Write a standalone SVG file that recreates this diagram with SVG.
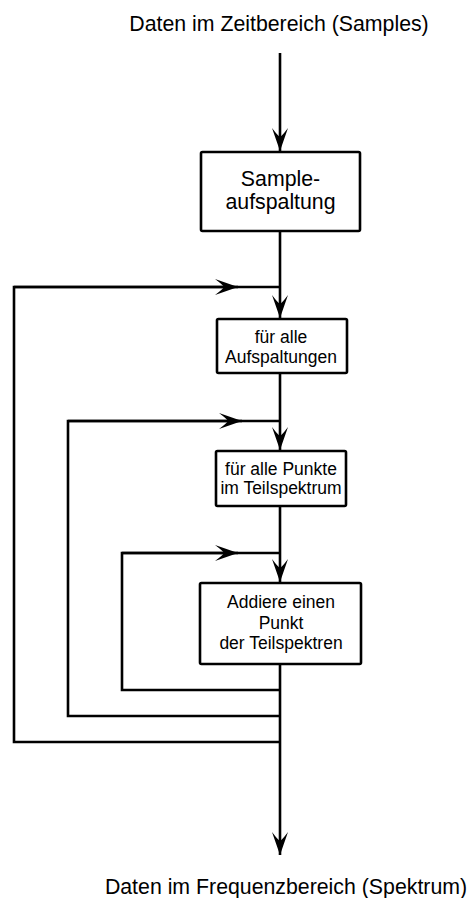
<svg xmlns="http://www.w3.org/2000/svg" width="468" height="898" viewBox="0 0 468 898">
<style>
.box{fill:#fff;stroke:#000;stroke-width:2.6}
.ln{fill:none;stroke:#000;stroke-width:2.6;stroke-linejoin:miter}
.t{font-family:"Liberation Sans",Arial,sans-serif;fill:#000;text-anchor:middle}
.big{font-size:21.3px}
.sm{font-size:17.5px}
</style>
<defs>
<marker id="ah" viewBox="-24 -9 26 18" refX="0" refY="0" markerWidth="26" markerHeight="18" markerUnits="userSpaceOnUse" orient="auto">
<path d="M0,0 L-23,-8 Q-15,-2 -14,0 Q-15,2 -23,8 Z" fill="#000"/>
</marker>
</defs>
<rect width="468" height="898" fill="#fff"/>
<g id="connectors">
<line class="ln" x1="280" y1="53" x2="280" y2="151" marker-end="url(#ah)"/>
<line class="ln" x1="280" y1="231" x2="280" y2="318" marker-end="url(#ah)"/>
<polyline class="ln" points="280,742 14,742 14,287 280,287"/>
<line class="ln" x1="14" y1="287" x2="238" y2="287" marker-end="url(#ah)"/>
<line class="ln" x1="280" y1="373" x2="280" y2="450" marker-end="url(#ah)"/>
<polyline class="ln" points="280,716 68,716 68,421 280,421"/>
<line class="ln" x1="68" y1="421" x2="242" y2="421" marker-end="url(#ah)"/>
<line class="ln" x1="280" y1="506" x2="280" y2="582" marker-end="url(#ah)"/>
<polyline class="ln" points="280,690 122,690 122,553 280,553"/>
<line class="ln" x1="122" y1="553" x2="238" y2="553" marker-end="url(#ah)"/>
<line class="ln" x1="280" y1="664" x2="280" y2="855" marker-end="url(#ah)"/>
</g>
<g id="start"><text class="t big" x="279" y="31">Daten im Zeitbereich (Samples)</text></g>
<g id="n1">
<rect class="box" x="201" y="152" width="159" height="79" rx="1.5"/>
<text class="t big" x="280.5" y="186">Sample-</text>
<text class="t big" x="280.5" y="209">aufspaltung</text>
</g>
<g id="n2">
<rect class="box" x="217" y="319" width="130" height="54" rx="1.5"/>
<text class="t sm" x="281" y="343">für alle</text>
<text class="t sm" x="281" y="363">Aufspaltungen</text>
</g>
<g id="n3">
<rect class="box" x="216" y="451" width="130" height="55" rx="1.5"/>
<text class="t sm" x="281" y="475">für alle Punkte</text>
<text class="t sm" x="281" y="494">im Teilspektrum</text>
</g>
<g id="n4">
<rect class="box" x="200" y="583" width="161" height="81" rx="1.5"/>
<text class="t sm" x="281" y="608">Addiere einen</text>
<text class="t sm" x="281" y="629">Punkt</text>
<text class="t sm" x="281" y="649">der Teilspektren</text>
</g>
<g id="end"><text class="t big" x="286" y="894">Daten im Frequenzbereich (Spektrum)</text></g>
</svg>
